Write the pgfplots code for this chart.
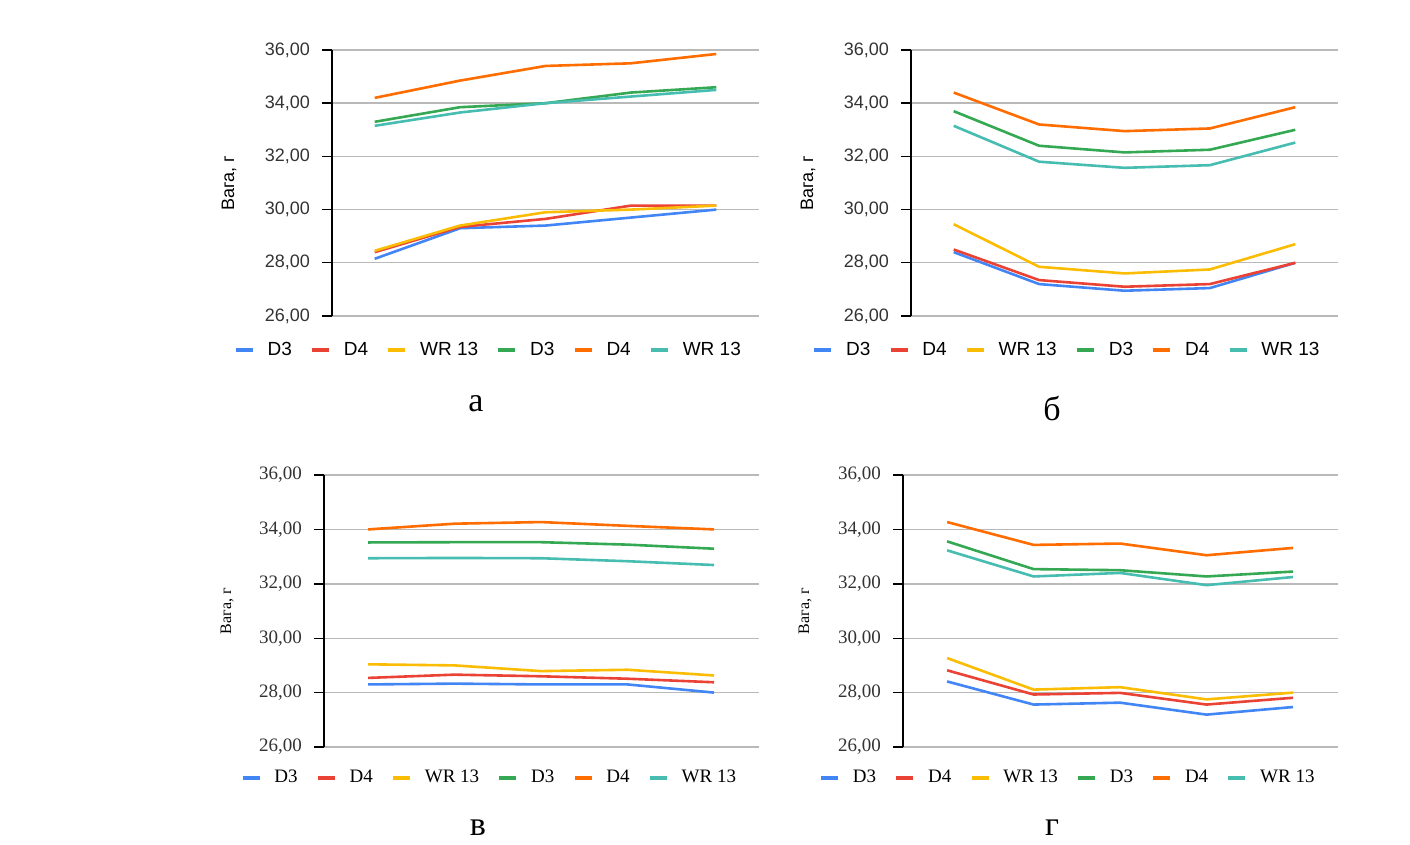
\documentclass[border=0pt]{standalone}
\usepackage{pgfplots}
\pgfplotsset{compat=1.18}
\usepackage{fontspec}
\setmainfont{Liberation Sans}
\newfontfamily\serif{Liberation Serif}
\newfontfamily\sans{Liberation Sans}
\definecolor{cblue}{HTML}{4285F4}
\definecolor{cred}{HTML}{EA4335}
\definecolor{cyel}{HTML}{FBBC04}
\definecolor{cgreen}{HTML}{34A853}
\definecolor{corange}{HTML}{FF6D01}
\definecolor{cteal}{HTML}{46BDB0}
\pgfplotsset{
  panel/.style={
    scale only axis, anchor=north west,
    xmin=-0.5, xmax=4.5, ymin=26, ymax=36,
    ytick={26,28,...,36}, xtick=\empty,
    axis lines*=left, x axis line style={draw=none},
    y axis line style={black, line width=0.7pt, -},
    ymajorgrids, grid style={gray!55, line width=0.7pt},
    tick align=outside, major tick length=5pt,
    ytick style={black, line width=0.7pt},
    /pgf/number format/.cd, fixed, fixed zerofill, precision=2, use comma, assume math mode=true,
    /pgfplots/.cd,
    yticklabel style={text=black!80, xshift=-2.5pt},
    ylabel={Вага, г},
    ylabel style={anchor=center},
    legend columns=6,
    legend style={draw=none, fill=none, inner sep=0pt, nodes={inner sep=0pt},
      /tikz/every odd column/.append style={column sep=6.5pt},
      /tikz/every even column/.append style={column sep=9.2pt}},
    legend image code/.code={\draw[line width=1.8pt] (0pt,0pt) -- (8.5pt,0pt);},
    every axis plot/.append style={line width=1.3pt},
    cycle list={{cblue},{cred},{cyel},{cgreen},{corange},{cteal}},
  },
  sanspanel/.style={panel,
    tick label style={font=\sans\fontsize{9}{10}\selectfont},
    label style={font=\sans\fontsize{9}{10}\selectfont},
    legend style={font=\sans\fontsize{9.5}{11}\selectfont}},
  serifpanel/.style={panel, xmin=-0.51, xmax=4.52,
    tick label style={font=\serif\fontsize{9.5}{10}\selectfont},
    label style={font=\serif\fontsize{8}{9}\selectfont},
    legend style={font=\serif\fontsize{9.5}{11}\selectfont}},
}
\begin{document}
\begin{tikzpicture}
\path[use as bounding box] (0,0) rectangle (705pt,-422.5pt);
% panel a
\begin{axis}[sanspanel, at={(166pt,-25pt)}, width=213.5pt, height=133pt,
  ylabel style={at={(axis description cs:-0.241,0.5)}},
  legend style={at={(axis description cs:0.364,-0.128)}, anchor=center}]
\addplot coordinates {(0,28.15) (1,29.3) (2,29.4) (3,29.7) (4,30.0)};
\addplot coordinates {(0,28.4) (1,29.35) (2,29.65) (3,30.15) (4,30.15)};
\addplot coordinates {(0,28.45) (1,29.4) (2,29.9) (3,30.0) (4,30.15)};
\addplot coordinates {(0,33.3) (1,33.85) (2,34.0) (3,34.4) (4,34.6)};
\addplot coordinates {(0,34.2) (1,34.85) (2,35.4) (3,35.5) (4,35.85)};
\addplot coordinates {(0,33.15) (1,33.65) (2,34.0) (3,34.25) (4,34.5)};
\legend{D3,D4,WR 13,D3,D4,WR 13}
\end{axis}
% panel b
\begin{axis}[sanspanel, at={(455.5pt,-25pt)}, width=213.5pt, height=133pt,
  ylabel style={at={(axis description cs:-0.241,0.5)}},
  legend style={at={(axis description cs:0.363,-0.128)}, anchor=center}]
\addplot coordinates {(0,28.4) (1,27.2) (2,26.95) (3,27.05) (4,28.0)};
\addplot coordinates {(0,28.5) (1,27.35) (2,27.1) (3,27.2) (4,28.0)};
\addplot coordinates {(0,29.45) (1,27.85) (2,27.6) (3,27.75) (4,28.7)};
\addplot coordinates {(0,33.7) (1,32.4) (2,32.15) (3,32.25) (4,33.0)};
\addplot coordinates {(0,34.4) (1,33.2) (2,32.95) (3,33.05) (4,33.85)};
\addplot coordinates {(0,33.15) (1,31.8) (2,31.57) (3,31.67) (4,32.52)};
\legend{D3,D4,WR 13,D3,D4,WR 13}
\end{axis}
% panel c
\begin{axis}[serifpanel, at={(162pt,-237.5pt)}, width=217.5pt, height=136pt,
  ylabel style={at={(axis description cs:-0.223,0.5)}},
  legend style={at={(axis description cs:0.378,-0.114)}, anchor=center}]
\addplot coordinates {(0,28.3) (1,28.33) (2,28.3) (3,28.3) (4,28.0)};
\addplot coordinates {(0,28.54) (1,28.66) (2,28.6) (3,28.51) (4,28.38)};
\addplot coordinates {(0,29.04) (1,29.0) (2,28.79) (3,28.84) (4,28.63)};
\addplot coordinates {(0,33.52) (1,33.53) (2,33.53) (3,33.44) (4,33.29)};
\addplot coordinates {(0,34.0) (1,34.21) (2,34.27) (3,34.13) (4,34.0)};
\addplot coordinates {(0,32.94) (1,32.95) (2,32.94) (3,32.83) (4,32.69)};
\legend{D3,D4,WR 13,D3,D4,WR 13}
\end{axis}
% panel d
\begin{axis}[serifpanel, at={(451.5pt,-237.5pt)}, width=217.5pt, height=136pt,
  ylabel style={at={(axis description cs:-0.225,0.5)}},
  legend style={at={(axis description cs:0.377,-0.114)}, anchor=center}]
\addplot coordinates {(0,28.41) (1,27.56) (2,27.63) (3,27.19) (4,27.47)};
\addplot coordinates {(0,28.82) (1,27.93) (2,27.99) (3,27.56) (4,27.81)};
\addplot coordinates {(0,29.27) (1,28.11) (2,28.2) (3,27.75) (4,28.0)};
\addplot coordinates {(0,33.56) (1,32.54) (2,32.5) (3,32.27) (4,32.45)};
\addplot coordinates {(0,34.27) (1,33.43) (2,33.48) (3,33.05) (4,33.32)};
\addplot coordinates {(0,33.23) (1,32.27) (2,32.4) (3,31.95) (4,32.25)};
\legend{D3,D4,WR 13,D3,D4,WR 13}
\end{axis}
\node[font=\serif\fontsize{17}{19}\selectfont] at (238pt,-202pt) {а};
\node[font=\serif\fontsize{17}{19}\selectfont] at (526pt,-204pt) {б};
\node[font=\serif\fontsize{17}{19}\selectfont] at (239pt,-414pt) {в};
\node[font=\serif\fontsize{17}{19}\selectfont] at (526pt,-414pt) {г};
\end{tikzpicture}
\end{document}
